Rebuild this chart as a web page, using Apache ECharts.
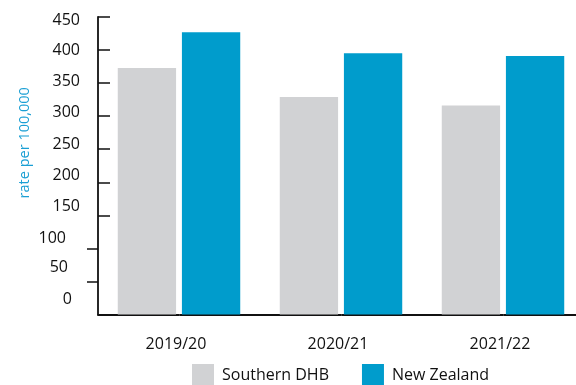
<!DOCTYPE html>
<html>
<head>
<meta charset="utf-8">
<script src="https://cdn.jsdelivr.net/npm/echarts@6/dist/echarts.min.js"></script>
<style>
  html, body { margin: 0; padding: 0; background: #fff; }
  #chart { width: 576px; height: 385px; }
</style>
</head>
<body>
<div id="chart"></div>
<script>
// Hospitalisation rate per 100,000 by financial year
const years = ['2019/20', '2020/21', '2021/22'];
const southernDHB = [373, 329, 316];
const newZealand = [427, 395, 391];
const yTicks = [0, 50, 100, 150, 200, 250, 300, 350, 400, 450];

const FONT = '"Open Sans", sans-serif';
const GREY = '#d1d2d4';
const BLUE = '#009ccc';

// Small vertical / horizontal nudges for the value labels (px, + moves up / left)
const labelLift = { 0: 15, 50: 14, 100: 10, 150: 9, 200: 7, 250: 5, 300: 4, 350: 2, 400: 0, 450: -3 };
const labelShift = { 0: 4, 50: 6, 100: 7 };

const rich = {};
yTicks.forEach(v => {
  const up = labelLift[v] || 0;
  const left = labelShift[v] || 0;
  rich['t' + v] = {
    fontFamily: FONT, fontSize: 16, color: '#111',
    padding: [up < 0 ? -2 * up : 0, 2 * left, up > 0 ? 2 * up : 0, 0]
  };
});

const chart = echarts.init(document.getElementById('chart'));
chart.setOption({
  animation: false,
  textStyle: { fontFamily: FONT },
  grid: { left: 98, top: 17, width: 486, height: 297.5, containLabel: false, outerBoundsMode: 'none' },
  legend: {
    left: 187, top: 359,
    itemWidth: 22, itemHeight: 22, itemGap: 33,
    icon: 'rect',
    textStyle: { fontFamily: FONT, fontSize: 16, color: '#111', padding: [0, 0, 0, 3] },
    data: ['Southern DHB', 'New Zealand']
  },
  xAxis: [{
    type: 'category',
    data: years,
    axisLine: { lineStyle: { color: '#111', width: 1.8 } },
    axisTick: { show: false },
    axisLabel: { fontFamily: FONT, fontSize: 16, color: '#111', margin: 22, padding: [0, 6, 0, 0] }
  }, {
    type: 'category',
    data: years,
    position: 'bottom',
    offset: 8,
    axisLine: { show: false },
    axisTick: { show: true, alignWithLabel: true, length: 1, lineStyle: { color: '#666', width: 1 } },
    axisLabel: { show: false }
  }],
  yAxis: [{
    type: 'value',
    min: 0, max: 450, interval: 50,
    name: 'rate per 100,000',
    nameLocation: 'middle',
    nameRotate: 90,
    nameGap: 66,
    nameMoveOverlap: false,
    nameTextStyle: { fontFamily: FONT, fontSize: 14.5, color: '#1a9fd4', padding: [0, 0, 0, 46] },
    axisLine: { show: true, lineStyle: { color: '#111', width: 1.8 } },
    axisTick: { show: true, inside: true, length: 12, customValues: [150, 200, 250, 300, 350, 400, 450],
                lineStyle: { color: '#111', width: 1.5 } },
    axisLabel: {
      margin: 18,
      customValues: yTicks,
      formatter: v => '{t' + v + '|' + v + '}',
      rich: rich
    },
    splitLine: { show: false }
  }, {
    type: 'value',
    min: 0, max: 450, interval: 50,
    position: 'left',
    axisLine: { show: false },
    axisTick: { show: true, inside: false, length: 11, customValues: [50, 100],
                lineStyle: { color: '#111', width: 1.5 } },
    axisLabel: { show: false },
    splitLine: { show: false }
  }],
  series: [{
    name: 'Southern DHB',
    type: 'bar',
    data: southernDHB,
    barWidth: '36%',
    barGap: '10%',
    itemStyle: { color: GREY }
  }, {
    name: 'New Zealand',
    type: 'bar',
    data: newZealand,
    barWidth: '36%',
    barGap: '10%',
    itemStyle: { color: BLUE }
  }]
});
</script>
</body>
</html>
